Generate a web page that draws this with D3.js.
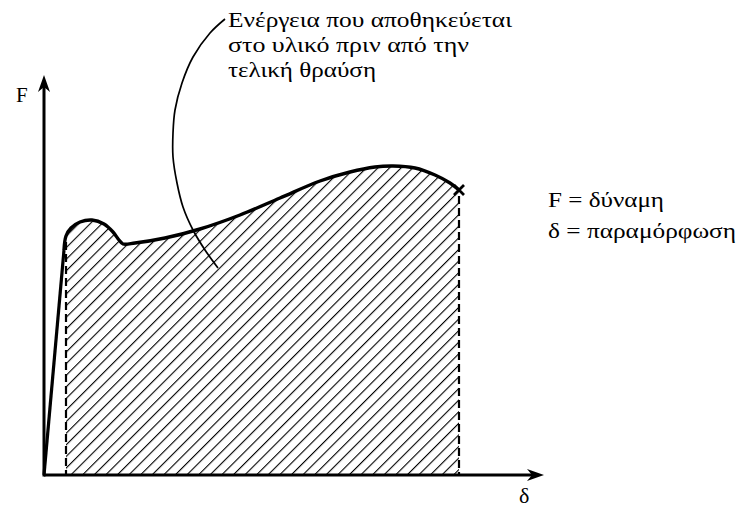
<!DOCTYPE html>
<html>
<head>
<meta charset="utf-8">
<script src="https://cdn.jsdelivr.net/npm/d3@7"></script>
<style>
  body { margin: 0; background: #fff; }
  svg { display: block; }
</style>
</head>
<body>
<div id="wrapper"></div>
<script>
// load-deformation curve (δ, F) in arbitrary units 0..100
const deltaValues = [0, 4, 4.4, 5.4, 7.2, 9.6, 12, 13.8, 15, 15.8, 18.2, 24.2, 31.2, 39.2, 47.2, 55.2, 61.2, 66.2, 69.8, 74.2, 78.2, 81.2, 83];
const forceValues = [0, 56.25, 59.75, 61.75, 63.25, 63.75, 62.75, 60.75, 58.75, 57.75, 58, 59.25, 61.5, 65, 69.25, 73.5, 75.75, 77, 77.25, 76.75, 75, 73, 71.25];

// start of hatched area and fracture point
const yieldDelta = 4.4;
const fractureDelta = 83;

// leader line from the note down into the area
const leaderDelta = [36.2, 33.2, 29.8, 27.6, 26.2, 25.8, 25.8, 26.6, 27.8, 29.8, 32.2, 34.8];
const leaderForce = [114, 110.5, 104.5, 98, 91.25, 85.5, 79.5, 73, 67, 61.25, 56.25, 51.75];

const noteLines = ["Ενέργεια που αποθηκεύεται", "στο υλικό πριν από την", "τελική θραύση"];
const legendLines = ["F = δύναμη", "δ = παραμόρφωση"];
const xLabel = "δ";
const yLabel = "F";

const width = 738;
const height = 509;
const serif = "'Liberation Serif', 'Times New Roman', Times, 'DejaVu Serif', serif";

const svg = d3.select("#wrapper").append("svg")
    .attr("width", width)
    .attr("height", height);

const xScaler = d3.scaleLinear().domain([0, 100]).range([44, 544]);
const yScaler = d3.scaleLinear().domain([0, 100]).range([475, 75]);

const points = deltaValues.map((d, i) => ({ d: d, f: forceValues[i] }));
const hatchPoints = points.filter(p => p.d >= yieldDelta);
const fForDelta = dv => points.find(p => p.d === dv).f;

// hatch pattern
const defs = svg.append("defs");
defs.append("pattern")
    .attr("id", "hatch")
    .attr("patternUnits", "userSpaceOnUse")
    .attr("width", 8.2)
    .attr("height", 8.2)
    .attr("patternTransform", "rotate(45)")
  .append("line")
    .attr("x1", 0).attr("y1", 0)
    .attr("x2", 0).attr("y2", 8.2)
    .attr("stroke", "#000")
    .attr("stroke-width", 2.2);

const curveType = d3.curveCatmullRom.alpha(0.5);

const areaGen = d3.area()
    .x(p => xScaler(p.d))
    .y0(yScaler(0))
    .y1(p => yScaler(p.f))
    .curve(curveType);

svg.append("path")
    .datum(hatchPoints)
    .attr("d", areaGen)
    .attr("fill", "url(#hatch)");

// dashed verticals
[yieldDelta, fractureDelta].forEach(dv => {
  svg.append("line")
      .attr("x1", xScaler(dv)).attr("x2", xScaler(dv))
      .attr("y1", yScaler(fForDelta(dv)) + 6)
      .attr("y2", yScaler(0))
      .attr("stroke", "#000")
      .attr("stroke-width", 2.2)
      .attr("stroke-dasharray", "8 4");
});

// linear elastic part then the curve
const lineGen = d3.line()
    .x(p => xScaler(p.d))
    .y(p => yScaler(p.f))
    .curve(curveType);

svg.append("path")
    .datum(points.slice(0, 2))
    .attr("d", d3.line().x(p => xScaler(p.d)).y(p => yScaler(p.f)))
    .attr("fill", "none")
    .attr("stroke", "#000")
    .attr("stroke-width", 3.2);

svg.append("path")
    .datum(points.slice(1))
    .attr("d", lineGen)
    .attr("fill", "none")
    .attr("stroke", "#000")
    .attr("stroke-width", 3.4)
    .attr("stroke-linejoin", "round");

// fracture mark
const fx = xScaler(fractureDelta), fy = yScaler(fForDelta(fractureDelta));
svg.append("path")
    .attr("d", `M${fx - 5},${fy - 5}L${fx + 5},${fy + 5}M${fx + 5},${fy - 5}L${fx - 5},${fy + 5}`)
    .attr("stroke", "#000")
    .attr("stroke-width", 2.8);

// axes
const x0 = xScaler(0), y0 = yScaler(0);
const xEnd = xScaler(100), yEnd = yScaler(100);
svg.append("line")
    .attr("x1", x0).attr("x2", xEnd - 6)
    .attr("y1", y0).attr("y2", y0)
    .attr("stroke", "#000").attr("stroke-width", 3);
svg.append("line")
    .attr("x1", x0).attr("x2", x0)
    .attr("y1", y0 + 1.5).attr("y2", yEnd + 6)
    .attr("stroke", "#000").attr("stroke-width", 3);

svg.append("path")
    .attr("d", `M${xEnd},${y0}L${xEnd - 17},${y0 - 6}L${xEnd - 12},${y0}L${xEnd - 17},${y0 + 6}Z`)
    .attr("fill", "#000");
svg.append("path")
    .attr("d", `M${x0},${yEnd}L${x0 - 6},${yEnd + 17}L${x0},${yEnd + 12}L${x0 + 6},${yEnd + 17}Z`)
    .attr("fill", "#000");

svg.append("text")
    .attr("x", 16).attr("y", 102)
    .attr("font-family", serif)
    .attr("font-size", "21px")
    .text(yLabel);

svg.append("text")
    .attr("x", 519).attr("y", 503)
    .attr("font-family", serif)
    .attr("font-size", "22px")
    .text(xLabel);

// leader line
const leaderPts = leaderDelta.map((d, i) => [xScaler(d), yScaler(leaderForce[i])]);
svg.append("path")
    .attr("d", d3.line().curve(d3.curveCatmullRom.alpha(0.5))(leaderPts))
    .attr("fill", "none")
    .attr("stroke", "#000")
    .attr("stroke-width", 1.7);

// note text
const noteWidths = [284, 241, 148];
svg.append("g").selectAll("text")
    .data(noteLines)
    .join("text")
    .attr("x", 228)
    .attr("y", (d, i) => 27 + i * 25)
    .attr("font-family", serif)
    .attr("font-size", "21px")
    .attr("textLength", (d, i) => noteWidths[i])
    .attr("lengthAdjust", "spacingAndGlyphs")
    .text(d => d);

// legend text
const legendWidths = [116, 188];
svg.append("g").selectAll("text")
    .data(legendLines)
    .join("text")
    .attr("x", 548)
    .attr("y", (d, i) => 207 + i * 31)
    .attr("font-family", serif)
    .attr("font-size", "22px")
    .attr("textLength", (d, i) => legendWidths[i])
    .attr("lengthAdjust", "spacingAndGlyphs")
    .text(d => d);
</script>
</body>
</html>
